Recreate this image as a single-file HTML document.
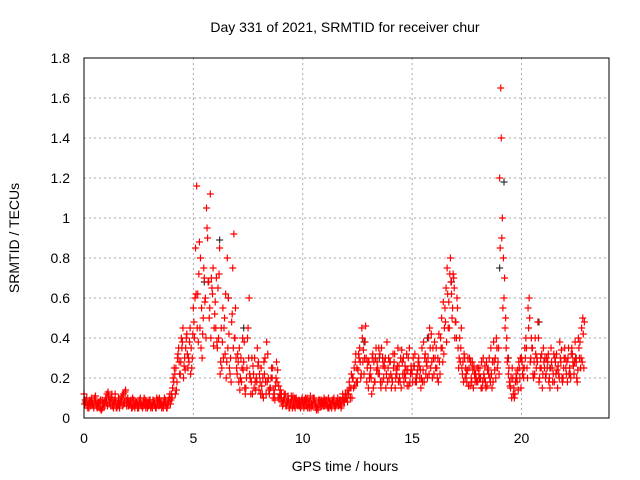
<!DOCTYPE html>
<html><head><meta charset="utf-8"><style>body{margin:0;background:#fff}svg{display:block;font-family:"Liberation Sans",sans-serif}</style></head>
<body>
<svg id="c" width="640" height="480">
<text x="345" y="32" font-size="14" text-anchor="middle">Day 331 of 2021, SRMTID for receiver chur</text>
<text x="345" y="471" font-size="14" text-anchor="middle">GPS time / hours</text>
<text transform="translate(19,238) rotate(-90)" font-size="14" text-anchor="middle">SRMTID / TECUs</text>
<g id="grid"></g><g id="pts"></g>
<rect x="84" y="58" width="525" height="360" fill="none" stroke="#000"/>
</svg>
<script>
const xTicks=[0,5,10,15,20];
const yTicks=[0,0.2,0.4,0.6,0.8,1,1.2,1.4,1.6,1.8];
const yTickLabels=["0","0.2","0.4","0.6","0.8","1","1.2","1.4","1.6","1.8"];
const redA=[0.12,0.08,0.07,0.06,0.07,0.09,0.05,0.08,0.04,0.07,
0.10,0.13,0.08,0.06,0.09,0.05,0.07,0.08,0.12,0.14,
0.10,0.07,0.05,0.06,0.08,0.05,0.07,0.06,0.09,0.05,
0.07,0.06,0.08,0.05,0.09,0.07,0.06,0.08,0.05,0.10,
0.12,0.18,0.25,0.32,0.22,0.38,0.30,0.42,0.28,0.35,
0.55,0.85,0.62,0.45,0.30,0.70,1.05,0.68,0.40,0.75,
0.58,0.35,0.85,0.25,0.45,0.20,0.60,0.30,0.75,0.40,
0.22,0.35,0.18,0.28,0.15,0.45,0.20,0.12,0.30,0.18,
0.14,0.25,0.10,0.18,0.32,0.15,0.20,0.12,0.28,0.16,
0.10,0.07,0.12,0.08,0.05,0.09,0.06,0.10,0.07,0.05,
0.08,0.06,0.10,0.05,0.07,0.09,0.06,0.04,0.08,0.07,
0.06,0.09,0.05,0.07,0.08,0.06,0.10,0.07,0.09,0.08,
0.10,0.12,0.15,0.20,0.28,0.18,0.35,0.45,0.22,0.30,
0.15,0.25,0.32,0.18,0.28,0.22,0.35,0.20,0.15,0.25,
0.28,0.18,0.32,0.22,0.26,0.15,0.30,0.20,0.24,0.18,
0.22,0.26,0.18,0.30,0.15,0.24,0.32,0.20,0.45,0.28,
0.22,0.35,0.18,0.40,0.28,0.55,0.75,0.45,0.62,0.70,
0.48,0.35,0.28,0.22,0.30,0.18,0.25,0.20,0.15,0.22,
0.18,0.25,0.15,0.20,0.28,0.22,0.35,0.18,0.30,0.25,
1.20,0.90,0.60,0.35,0.22,0.15,0.20,0.12,0.18,0.25,
0.30,0.20,0.40,0.55,0.28,0.35,0.22,0.30,0.18,0.25,
0.35,0.20,0.28,0.15,0.25,0.18,0.32,0.22,0.28,0.20,
0.30,0.18,0.25,0.35,0.22,0.28,0.40,0.25,0.50];
const redB=[0.09,0.06,0.08,0.10,0.05,0.07,0.06,0.09,0.05,0.08,
0.12,0.07,0.10,0.05,0.08,0.06,0.09,0.11,0.08,0.06,
0.08,0.09,0.06,0.07,0.05,0.08,0.06,0.10,0.07,0.06,
0.05,0.09,0.06,0.07,0.10,0.05,0.08,0.06,0.09,0.07,
0.15,0.22,0.18,0.28,0.40,0.20,0.35,0.25,0.45,0.30,
0.40,1.16,0.72,0.35,0.50,0.60,0.90,0.55,0.65,0.45,
0.70,0.40,0.28,0.55,0.32,0.80,0.25,0.48,0.92,0.30,
0.28,0.20,0.40,0.15,0.25,0.60,0.18,0.22,0.14,0.26,
0.18,0.12,0.22,0.38,0.14,0.20,0.10,0.16,0.24,0.12,
0.08,0.12,0.06,0.09,0.07,0.11,0.05,0.08,0.06,0.09,
0.05,0.09,0.07,0.11,0.06,0.08,0.05,0.07,0.09,0.06,
0.08,0.05,0.07,0.09,0.06,0.08,0.07,0.05,0.10,0.12,
0.08,0.15,0.10,0.25,0.18,0.32,0.20,0.28,0.38,0.25,
0.20,0.12,0.28,0.35,0.22,0.18,0.30,0.25,0.38,0.20,
0.15,0.25,0.20,0.35,0.18,0.28,0.22,0.32,0.16,0.26,
0.30,0.18,0.24,0.20,0.35,0.18,0.28,0.40,0.25,0.35,
0.30,0.20,0.28,0.50,0.32,0.65,0.45,0.80,0.55,0.40,
0.60,0.30,0.45,0.18,0.25,0.30,0.16,0.28,0.22,0.18,
0.22,0.15,0.30,0.18,0.24,0.20,0.15,0.28,0.40,0.35,
1.65,0.55,0.45,0.28,0.18,0.10,0.15,0.22,0.14,0.30,
0.22,0.35,0.25,0.60,0.40,0.20,0.32,0.48,0.25,0.15,
0.25,0.30,0.18,0.35,0.22,0.28,0.15,0.38,0.20,0.30,
0.22,0.35,0.20,0.28,0.38,0.18,0.30,0.45,0.25];
const redC=[0.07,0.10,0.05,0.08,0.06,0.11,0.07,0.05,0.09,0.06,
0.08,0.11,0.06,0.09,0.12,0.07,0.05,0.10,0.07,0.09,
0.06,0.08,0.10,0.05,0.07,0.09,0.06,0.08,0.05,0.07,
0.09,0.05,0.07,0.10,0.06,0.08,0.05,0.09,0.07,0.12,
0.10,0.25,0.14,0.35,0.28,0.45,0.24,0.32,0.38,0.25,
0.48,0.62,0.38,0.80,0.42,0.58,0.95,0.50,0.70,0.36,
0.45,0.65,0.22,0.38,0.50,0.28,0.42,0.18,0.35,0.55,
0.32,0.14,0.25,0.38,0.20,0.30,0.12,0.26,0.18,0.35,
0.22,0.16,0.28,0.12,0.20,0.15,0.25,0.09,0.18,0.10,
0.12,0.09,0.06,0.11,0.08,0.05,0.10,0.07,0.09,0.06,
0.07,0.10,0.05,0.08,0.06,0.10,0.04,0.09,0.06,0.08,
0.09,0.06,0.08,0.05,0.10,0.07,0.06,0.09,0.12,0.10,
0.12,0.18,0.22,0.15,0.32,0.24,0.28,0.40,0.30,0.18,
0.28,0.20,0.15,0.30,0.25,0.32,0.18,0.28,0.22,0.30,
0.22,0.32,0.15,0.26,0.20,0.34,0.18,0.24,0.30,0.22,
0.18,0.32,0.22,0.26,0.20,0.38,0.22,0.30,0.35,0.20,
0.38,0.25,0.42,0.35,0.58,0.48,0.62,0.72,0.50,0.65,
0.40,0.25,0.35,0.28,0.20,0.24,0.30,0.18,0.26,0.20,
0.25,0.20,0.18,0.26,0.16,0.30,0.22,0.38,0.20,0.28,
0.85,1.00,0.70,0.40,0.25,0.20,0.12,0.18,0.24,0.20,
0.28,0.25,0.35,0.45,0.30,0.22,0.40,0.28,0.20,0.32,
0.28,0.22,0.32,0.25,0.18,0.30,0.24,0.20,0.34,0.25,
0.25,0.30,0.22,0.32,0.28,0.20,0.35,0.30,0.42];
const redD=[0.08,0.05,0.09,0.07,0.10,0.06,0.08,0.04,0.07,0.09,
0.06,0.09,0.12,0.07,0.05,0.10,0.08,0.06,0.13,0.08,
0.07,0.05,0.09,0.08,0.06,0.10,0.05,0.07,0.08,0.09,
0.06,0.08,0.05,0.09,0.07,0.06,0.10,0.05,0.08,0.09,
0.20,0.12,0.30,0.22,0.35,0.26,0.40,0.30,0.22,0.42,
0.60,0.45,0.88,0.55,0.75,0.40,0.68,1.12,0.62,0.52,
0.38,0.72,0.45,0.30,0.62,0.35,0.22,0.52,0.40,0.25,
0.18,0.30,0.24,0.12,0.40,0.22,0.30,0.15,0.20,0.28,
0.12,0.20,0.30,0.18,0.12,0.25,0.14,0.20,0.10,0.14,
0.06,0.10,0.08,0.05,0.11,0.07,0.09,0.06,0.08,0.10,
0.09,0.06,0.08,0.05,0.10,0.07,0.05,0.09,0.06,0.10,
0.07,0.10,0.06,0.09,0.05,0.08,0.09,0.06,0.08,0.10,
0.14,0.10,0.20,0.16,0.25,0.30,0.22,0.34,0.46,0.28,
0.22,0.30,0.18,0.24,0.35,0.15,0.26,0.30,0.18,0.28,
0.20,0.28,0.24,0.18,0.30,0.22,0.26,0.16,0.35,0.24,
0.26,0.20,0.28,0.24,0.18,0.30,0.26,0.22,0.42,0.30,
0.25,0.30,0.22,0.35,0.45,0.38,0.58,0.68,0.72,0.48,
0.55,0.40,0.25,0.32,0.22,0.16,0.28,0.24,0.18,0.25,
0.20,0.28,0.22,0.15,0.25,0.18,0.28,0.24,0.35,0.22,
1.40,0.80,0.50,0.30,0.16,0.25,0.10,0.20,0.28,0.15,
0.25,0.30,0.20,0.50,0.35,0.28,0.25,0.40,0.30,0.22,
0.30,0.25,0.20,0.28,0.32,0.22,0.26,0.30,0.18,0.35,
0.28,0.22,0.32,0.26,0.30,0.24,0.38,0.28,0.48];
const blackT=[5.5,6.2,6.6,7.3,12.8,13.5,15.7,16.8,19.0,19.2,19.4,20.8,21.3,22.5];
const blackV=[0.68,0.89,0.60,0.45,0.38,0.30,0.40,0.68,0.75,1.18,0.30,0.48,0.25,0.30];
const X=t=>84+t*525/24, Y=v=>418-v*200;
const NS="http://www.w3.org/2000/svg";
const svg=document.getElementById('c'),grid=document.getElementById('grid'),pts=document.getElementById('pts');
function mk(tag,a,p){const e=document.createElementNS(NS,tag);for(const k in a)e.setAttribute(k,a[k]);p.appendChild(e);return e;}
xTicks.forEach(t=>{
 const l=mk('line',{x1:X(t),x2:X(t),y1:58,y2:418,stroke:'#aaa','stroke-dasharray':'2,3'},grid);
 
 
 const tx=mk('text',{x:X(t),y:443,'font-size':14,'text-anchor':'middle'},svg);
 tx.textContent=t;
 
 
});
yTicks.forEach((v,i)=>{
 const l=mk('line',{x1:84,x2:609,y1:Y(v),y2:Y(v),stroke:'#aaa','stroke-dasharray':'2,3'},grid);
 
 
 const tx=mk('text',{x:70,y:Y(v)+5,'font-size':14,'text-anchor':'end'},svg);
 tx.textContent=yTickLabels[i];
 
 
});
function plus(t,v,col){
 const x=X(t),y=Y(v);
 const p=mk('path',{d:`M${x-3.5},${y}h7M${x},${y-3.5}v7`,stroke:col,'stroke-width':1.2,fill:'none'},pts);
 
 
}
blackT.forEach((t,i)=>plus(t,blackV[i],'#333'));
redA.forEach((v,i)=>plus(i*0.1,v,'#f00'));
redB.forEach((v,i)=>plus(i*0.1+0.05,v,'#f00'));
redC.forEach((v,i)=>plus(i*0.1+0.025,v,'#f00'));
redD.forEach((v,i)=>plus(i*0.1+0.075,v,'#f00'));
</script>
</body></html>
